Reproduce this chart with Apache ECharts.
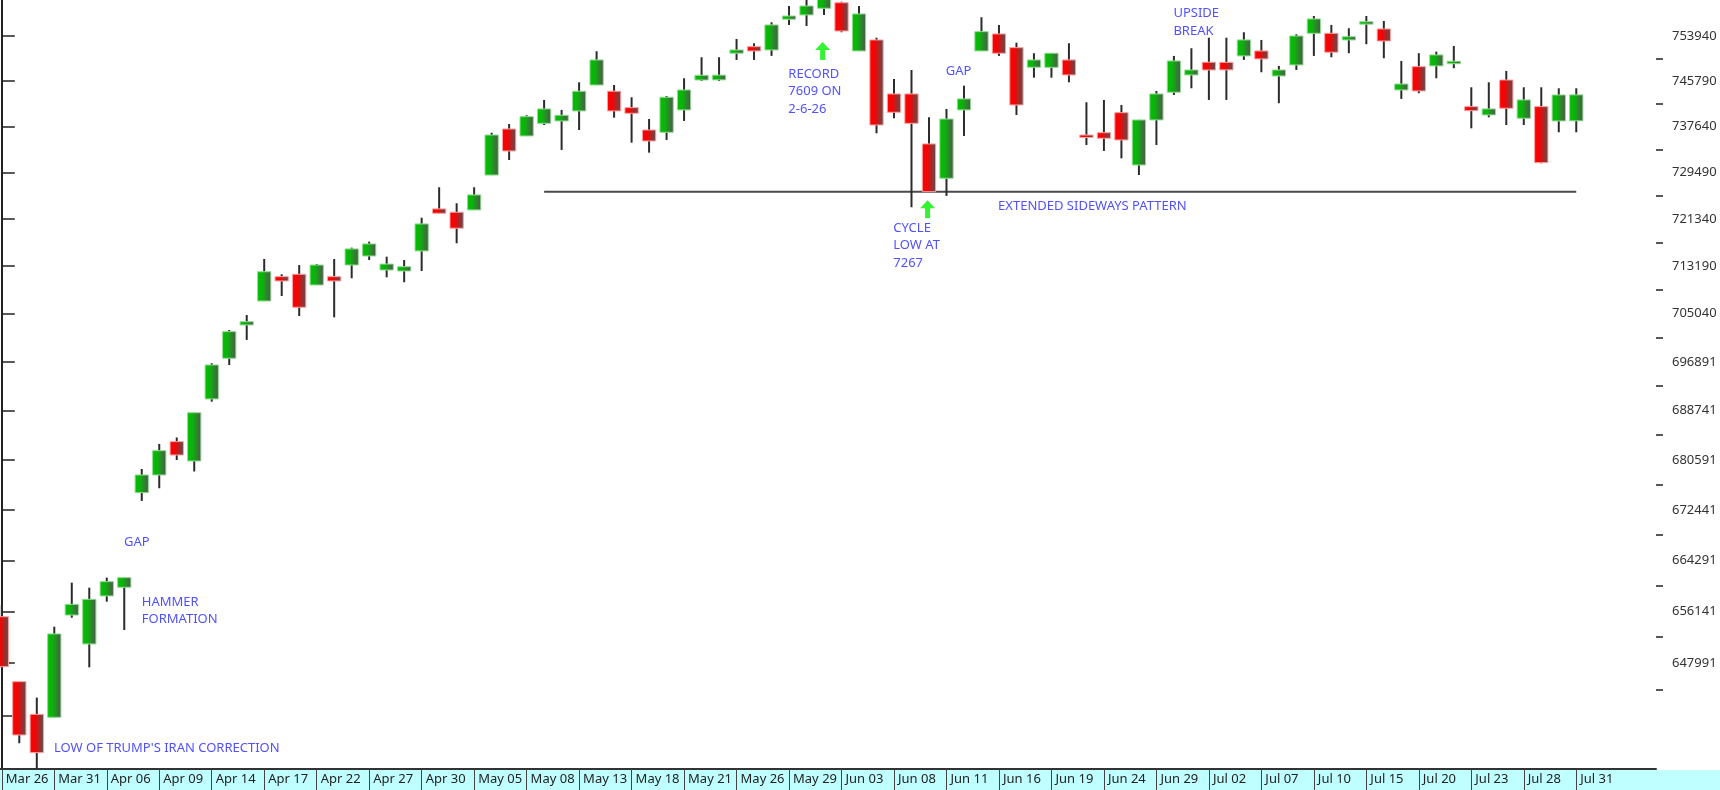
<!DOCTYPE html>
<html>
<head>
<meta charset="utf-8">
<script src="https://cdn.jsdelivr.net/npm/echarts@6.0.0/dist/echarts.min.js"></script>
<style>
html,body{margin:0;padding:0;background:#fff;}
#chart{width:1720px;height:790px;}
</style>
</head>
<body>
<div id="chart"></div>
<script>
// ---- Date tick labels (one every 3 trading days, starting at candle 0) ----
const dateLabels = ['Mar 26','Mar 31','Apr 06','Apr 09','Apr 14','Apr 17','Apr 22','Apr 27','Apr 30','May 05','May 08','May 13','May 18','May 21','May 26','May 29','Jun 03','Jun 08','Jun 11','Jun 16','Jun 19','Jun 24','Jun 29','Jul 02','Jul 07','Jul 10','Jul 15','Jul 20','Jul 23','Jul 28','Jul 31'];

// ---- Price axis tick labels ----
const priceTicks = [753940,745790,737640,729490,721340,713190,705040,696891,688741,680591,672441,664291,656141,647991,639841];

// ---- OHLC values ----
const opens  = [655310,645110,640040,639580,655570,651010,658600,659980,675230,678120,683600,680410,690680,697500,703130,707210,711380,711790,709950,711380,713380,714940,712520,712350,715810,723110,722530,722930,729050,737200,735960,738210,738630,740420,745070,743950,741010,737020,736610,740600,745970,745990,750810,752000,751400,756990,757780,759000,760020,751220,753220,743460,743460,734540,728480,740600,751220,754310,751820,748270,748250,749590,736130,736540,740110,730820,738810,743770,746880,749180,749160,750320,751220,746700,748690,754430,754430,753220,756260,755220,744180,748380,748510,749000,741190,739700,745970,739110,741190,738630,738650];
const closes = [647450,636860,634150,652590,657270,658070,660880,661520,678120,682110,681400,688390,696370,702000,703690,712230,710640,706140,713380,710640,716160,717020,713550,713090,720490,722350,719750,725560,736130,733300,739400,740780,739650,743950,749590,740420,740000,735070,742870,744180,746820,746850,751400,751220,755950,757590,759420,760610,754850,757960,737910,740180,738210,726130,738980,742570,754730,750810,741490,749590,750810,746880,735730,735550,735250,738810,743460,749410,747780,747780,747800,753220,749780,747780,753940,757050,750990,753810,756550,753030,745250,744000,750500,749360,740470,740780,740900,742390,731230,743280,743300];
const lows   = [647240,635590,631180,639560,655150,647350,657690,653210,673880,675950,680570,678690,690230,696370,700590,707190,708070,704650,709930,704430,711100,714250,711270,710420,712350,722330,717140,722910,729030,731700,735940,737910,733480,737020,745050,739220,734770,733000,735250,738630,745790,745790,749590,749590,750320,755950,755770,757780,754620,751200,736440,739110,723400,726110,725380,735960,751200,750320,739700,746390,746390,745560,734360,733300,732000,729050,734360,743280,744480,742390,742390,749590,747370,741800,747780,750320,750080,750810,752440,749900,742570,743590,746280,748090,737320,739290,737910,737910,731120,736610,736610];
const highs  = [657160,645110,642630,653730,660720,659920,661520,661550,679100,683220,684290,688420,696660,702280,704820,714420,711790,713380,713550,714420,716380,717420,714820,714250,721580,726900,724100,726900,736540,738090,739650,742390,740600,745560,751170,745070,742870,738980,743100,746280,750080,750080,753400,752620,756440,759420,760700,760900,760210,759420,753630,746150,747780,739290,740780,744950,757360,755950,752730,750810,750830,752620,741980,742390,741490,738830,744000,750320,751710,753630,753630,754620,753220,748510,754250,757590,755950,755350,757590,756680,749410,750810,751100,752130,744660,745560,747600,744660,744660,744480,744480];

// ---- Sideways pattern support level ----
const sidewaysLevel = 726130;
const sidewaysFrom = 31;
const sidewaysTo = 90;

// ---- Annotations (anchored in data space) ----
const annotations = [
  {text: "LOW OF TRUMP'S IRAN CORRECTION", x: 2.98, v: 634870},
  {text: 'GAP', x: 6.99, v: 667160},
  {text: 'HAMMER\nFORMATION', x: 8.0, v: 656280},
  {text: 'RECORD\n7609 ON\n2-6-26', x: 44.96, v: 743910},
  {text: 'GAP', x: 53.96, v: 747550},
  {text: 'CYCLE\nLOW AT\n7267', x: 50.96, v: 716760},
  {text: 'EXTENDED SIDEWAYS PATTERN', x: 56.95, v: 723510},
  {text: 'UPSIDE\nBREAK', x: 66.97, v: 756400}
];
const arrows = [
  {x: 46.92, v: 751220},
  {x: 52.92, v: 723070}
];

// ---- Build ----
const FONT = 'Noto Sans';
const candleData = opens.map((o, i) => [i, o, closes[i], lows[i], highs[i]]);
const labelIdx = dateLabels.map((d, i) => i * 3);
const minorTicks = [];
for (let i = 0; i < priceTicks.length - 1; i++) minorTicks.push((priceTicks[i] + priceTicks[i + 1]) / 2);

const greenGrad = new echarts.graphic.LinearGradient(0, 0, 1, 0, [
  {offset: 0, color: '#00c000'}, {offset: 0.4, color: '#0eb00e'}, {offset: 1, color: '#525252'}
]);
const redGrad = new echarts.graphic.LinearGradient(0, 0, 1, 0, [
  {offset: 0, color: '#ff0000'}, {offset: 0.4, color: '#f00606'}, {offset: 1, color: '#525252'}
]);

function renderCandle(params, api) {
  const x = api.value(0), o = api.value(1), c = api.value(2), lo = api.value(3), hi = api.value(4);
  const pO = api.coord([x, o]), pC = api.coord([x, c]), pL = api.coord([x, lo]), pH = api.coord([x, hi]);
  const up = c >= o;
  const w = 13.3;
  const top = Math.min(pO[1], pC[1]);
  const h = Math.max(Math.abs(pO[1] - pC[1]), 2.5);
  return {
    type: 'group',
    children: [
      {type: 'line', shape: {x1: pH[0], y1: pH[1], x2: pL[0], y2: pL[1]}, style: {stroke: '#2b2b2b', lineWidth: 2}},
      {type: 'rect', shape: {x: pO[0] - w / 2, y: top, width: w, height: h},
       style: {fill: up ? greenGrad : redGrad, stroke: up ? '#93dc93' : '#ffa0a0', lineWidth: 1}}
    ]
  };
}

const chart = echarts.init(document.getElementById('chart'), null, {renderer: 'canvas'});
chart.setOption({
  animation: false,
  backgroundColor: '#ffffff',
  graphic: [{
    type: 'rect', z: -10, silent: true,
    shape: {x: 0, y: 770, width: 1720, height: 20},
    style: {fill: '#c0ffff'}
  }],
  grid: {left: 0, top: 0, right: 64, bottom: 21, containLabel: false},
  xAxis: {
    type: 'value',
    min: -0.103,
    max: 94.558,
    splitLine: {show: false},
    axisLine: {show: true, onZero: false, lineStyle: {color: '#333', width: 2}},
    axisTick: {show: true, customValues: labelIdx, length: 21, lineStyle: {color: '#444', width: 1}},
    axisLabel: {
      customValues: labelIdx,
      formatter: v => dateLabels[Math.round(v / 3)] || '',
      align: 'left', padding: [0, 0, 0, 4], margin: 4,
      color: '#222', fontSize: 13, fontFamily: FONT
    }
  },
  yAxis: [{
    type: 'log', logBase: 10,
    min: 631650, max: 760520,
    position: 'right',
    splitLine: {show: false},
    axisLine: {show: true, lineStyle: {color: '#222', width: 2}},
    axisTick: {show: true, customValues: priceTicks, length: 13, lineStyle: {color: '#222', width: 1.5}},
    axisLabel: {
      customValues: priceTicks.slice(0, priceTicks.length - 1),
      formatter: v => String(Math.round(v)),
      margin: 16, color: '#333', fontSize: 13, fontFamily: FONT
    }
  }, {
    type: 'log', logBase: 10,
    min: 631650, max: 760520,
    position: 'right',
    splitLine: {show: false},
    axisLine: {show: false},
    axisTick: {show: true, customValues: minorTicks, length: 7, lineStyle: {color: '#222', width: 1.5}},
    axisLabel: {show: false}
  }],
  series: [{
    type: 'line',
    z: 1,
    data: [[sidewaysFrom, sidewaysLevel], [sidewaysTo, sidewaysLevel]],
    symbol: 'none',
    lineStyle: {color: '#4a4a4a', width: 2},
    silent: true
  }, {
    type: 'custom',
    z: 2,
    clip: true,
    renderItem: renderCandle,
    encode: {x: 0, y: [1, 2, 3, 4]},
    data: candleData
  }, {
    type: 'scatter',
    z: 3,
    symbol: 'path://M7.5,0 L15,8 L10,8 L10,18 L5,18 L5,8 L0,8 Z',
    symbolSize: [15, 18],
    itemStyle: {color: '#00f000'},
    data: arrows.map(a => [a.x, a.v]),
    silent: true
  }, {
    type: 'scatter',
    z: 4,
    symbolSize: 0,
    data: annotations.map(a => ({value: [a.x, a.v], name: a.text})),
    label: {
      show: true, position: 'right', distance: 0,
      formatter: p => p.name,
      color: '#2424ff', fontSize: 13, fontFamily: FONT, lineHeight: 17.5
    },
    silent: true
  }]
});
</script>
</body>
</html>
